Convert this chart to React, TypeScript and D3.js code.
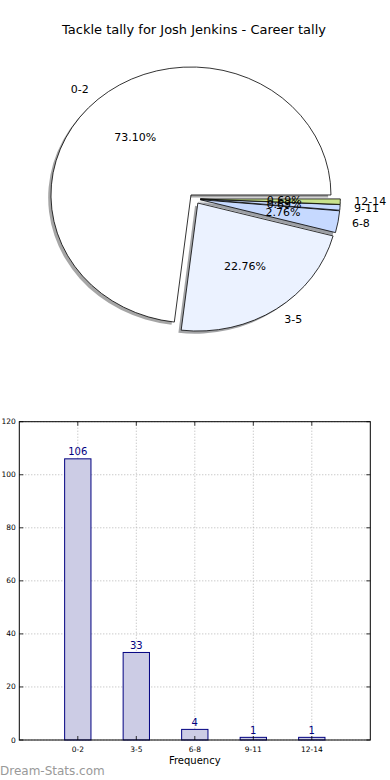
import React from 'react';
import * as d3 from 'd3';

const title = 'Tackle tally for Josh Jenkins - Career tally';
const categories = ['0-2', '3-5', '6-8', '9-11', '12-14'];
const counts = [106, 33, 4, 1, 1];
const sliceColors = ['#ffffff', '#ebf2ff', '#c6d9ff', '#c6d9ff', '#c8e28c'];
const yTicks = [0, 20, 40, 60, 80, 100, 120];

const FONT = '"DejaVu Sans", sans-serif';

// pie geometry (matplotlib pie without equal aspect -> ellipse)
const pieCx = 194.7;
const pieCy = 198.8;
const rx = 140;
const ry = 128;
const explode = 0.04;

const Pie: React.FC = () => {
  const total = d3.sum(counts);
  const arcs = d3.pie<number>()
    .sort(null)
    .startAngle(Math.PI / 2)
    .endAngle(Math.PI / 2 - 2 * Math.PI)(counts);
  const arc = d3.arc<d3.PieArcDatum<number>>().innerRadius(0).outerRadius(1);

  const slices = arcs.map((a, i) => {
    const m = (a.startAngle + a.endAngle) / 2;
    const ux = Math.sin(m);
    const uy = -Math.cos(m);
    const ax = pieCx + explode * rx * ux;
    const ay = pieCy + explode * ry * uy;
    const c = d3.rgb(sliceColors[i]);
    return {
      a, i, ax, ay, ux, uy,
      shadow: d3.rgb(c.r * 0.3, c.g * 0.3, c.b * 0.3).toString(),
      pct: ((counts[i] / total) * 100).toFixed(2) + '%',
    };
  });

  return (
    <g>
      {slices.map(s => (
        <path key={'sh' + s.i} d={arc(s.a) || ''}
          transform={`translate(${s.ax - 2.8},${s.ay + 2.6}) scale(${rx},${ry})`}
          fill={s.shadow} opacity={0.5} stroke="none" />
      ))}
      {slices.map(s => (
        <path key={'w' + s.i} d={arc(s.a) || ''}
          transform={`translate(${s.ax},${s.ay}) scale(${rx},${ry})`}
          fill={sliceColors[s.i]} stroke="#000" strokeWidth={0.8}
          vectorEffect="non-scaling-stroke" strokeLinejoin="round" />
      ))}
      {slices.map(s => (
        <text key={'l' + s.i} x={s.ax + 1.1 * rx * s.ux} y={s.ay + 1.1 * ry * s.uy}
          textAnchor={s.ux > 0 ? 'start' : 'end'} dominantBaseline="central"
          fontSize={11} fontFamily={FONT} fill="#000">{categories[s.i]}</text>
      ))}
      {slices.map(s => (
        <text key={'p' + s.i} x={s.ax + 0.6 * rx * s.ux} y={s.ay + 0.6 * ry * s.uy}
          textAnchor="middle" dominantBaseline="central"
          fontSize={11} fontFamily={FONT} fill="#000">{s.pct}</text>
      ))}
    </g>
  );
};

const Bars: React.FC = () => {
  const left = 19.3, right = 370.3, top = 421.7, bottom = 740;
  const x = d3.scaleLinear().domain([-1, 5]).range([left, right]);
  const y = d3.scaleLinear().domain([0, 120]).range([bottom, top]);
  const bw = x(0.45) - x(0);
  const pos = categories.map((_, i) => i);

  return (
    <g>
      {/* grid */}
      {yTicks.map(t => (
        <line key={'gy' + t} x1={left} x2={right} y1={y(t)} y2={y(t)}
          stroke="#b4b4b4" strokeWidth={1} strokeDasharray="1,2" />
      ))}
      {pos.map(p => (
        <line key={'gx' + p} x1={x(p)} x2={x(p)} y1={top} y2={bottom}
          stroke="#b4b4b4" strokeWidth={1} strokeDasharray="1,2" />
      ))}
      {/* bars */}
      {counts.map((v, i) => (
        <rect key={'b' + i} x={x(i) - bw / 2} y={y(v)} width={bw} height={bottom - y(v)}
          fill="#ccccE5" stroke="#000080" strokeWidth={1} />
      ))}
      {counts.map((v, i) => (
        <text key={'bl' + i} x={x(i)} y={y(v) - 3.5} textAnchor="middle"
          fontSize={10} fontFamily={FONT} fill="#000080">{v}</text>
      ))}
      {/* ticks */}
      {yTicks.map(t => (
        <g key={'ty' + t}>
          <line x1={left} x2={left + 4} y1={y(t)} y2={y(t)} stroke="#000" strokeWidth={0.8} />
          <line x1={right - 4} x2={right} y1={y(t)} y2={y(t)} stroke="#000" strokeWidth={0.8} />
          <text x={left - 3.5} y={y(t)} textAnchor="end" dominantBaseline="central"
            fontSize={7.5} fontFamily={FONT} fill="#000">{t}</text>
        </g>
      ))}
      {pos.map(p => (
        <g key={'tx' + p}>
          <line x1={x(p)} x2={x(p)} y1={bottom} y2={bottom - 4} stroke="#000" strokeWidth={0.8} />
          <line x1={x(p)} x2={x(p)} y1={top} y2={top + 4} stroke="#000" strokeWidth={0.8} />
          <text x={x(p)} y={751.5} textAnchor="middle"
            fontSize={7.5} fontFamily={FONT} fill="#000">{categories[p]}</text>
        </g>
      ))}
      <rect x={left} y={top} width={right - left} height={bottom - top}
        fill="none" stroke="#000" strokeWidth={1} />
      <text x={(left + right) / 2} y={764} textAnchor="middle"
        fontSize={10} fontFamily={FONT} fill="#000">Frequency</text>
    </g>
  );
};

const App: React.FC = () => (
  <div style={{ position: 'absolute', left: 0, top: 0 }}>
    <svg width={390} height={780} style={{ display: 'block', background: '#fff' }}>
      <text x={194} y={34} textAnchor="middle" fontSize={13} fontFamily={FONT} fill="#000">
        {title}
      </text>
      <Pie />
      <Bars />
      <text x={0} y={775} fontSize={12} fontFamily={FONT} fill="#999">Dream-Stats.com</text>
    </svg>
  </div>
);

export default App;
